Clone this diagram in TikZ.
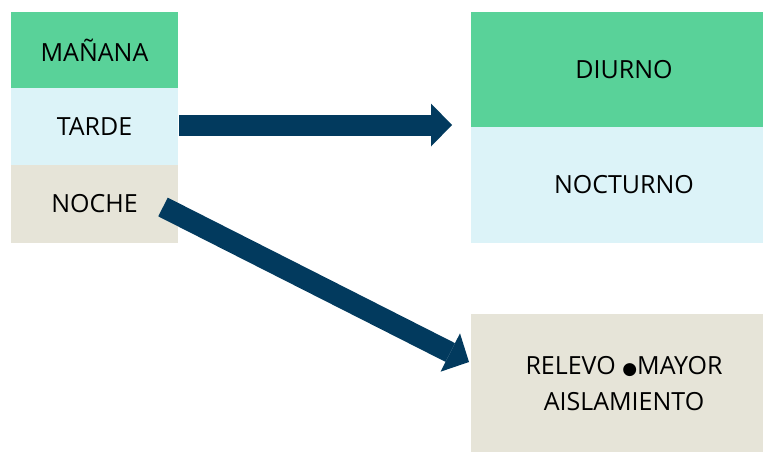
\documentclass[tikz,border=0pt]{standalone}
\usepackage{fontspec}
\setmainfont{Open Sans}
\newfontfamily\symfont{DejaVu Sans}
\usetikzlibrary{arrows.meta,calc}
\definecolor{cgreen}{RGB}{89,210,153}
\definecolor{cblue}{RGB}{220,243,248}
\definecolor{cbeige}{RGB}{230,228,216}
\definecolor{cnavy}{RGB}{2,58,94}
\begin{document}
\begin{tikzpicture}[x=1pt,y=-1pt,
  box/.style={rectangle, inner sep=0pt, outer sep=0pt, text=black, align=center,
    font=\fontsize{25}{36}\selectfont},
  leftbox/.style={box, minimum width=167pt},
  rightbox/.style={box, minimum width=306pt},
  bigarrow/.style={draw=cnavy, line width=21pt,
    -{Triangle[length=21pt,width=43pt,line width=0pt]}}]
\useasboundingbox (0,0) rectangle (763,452);
\node[leftbox, fill=cgreen, minimum height=76pt] (manana) at (94.5,50) {MAÑANA};
\node[leftbox, fill=cblue, minimum height=77pt] (tarde) at (94.5,126.5) {TARDE};
\node[leftbox, fill=cbeige, minimum height=78pt] (noche) at (94.5,204) {NOCHE};
\node[rightbox, fill=cgreen, minimum height=115pt] (diurno) at (624,69.5) {DIURNO};
\node[rightbox, fill=cblue, minimum height=116pt] (nocturno) at (624,185) {NOCTURNO};
\node[rightbox, fill=cbeige, minimum height=140pt] (relevo) at (624,384) {RELEVO {\symfont\fontsize{17}{17}\selectfont ●}MAYOR\\AISLAMIENTO};
\draw[bigarrow] ($(tarde.east)+(1,-1.5)$) -- ($(diurno.west |- tarde.east)+(-19,-1.5)$);
\draw[bigarrow] ($(noche.east)+(-15,3)$) -- ($(relevo.west)+(-2,-22)$);
\end{tikzpicture}
\end{document}
